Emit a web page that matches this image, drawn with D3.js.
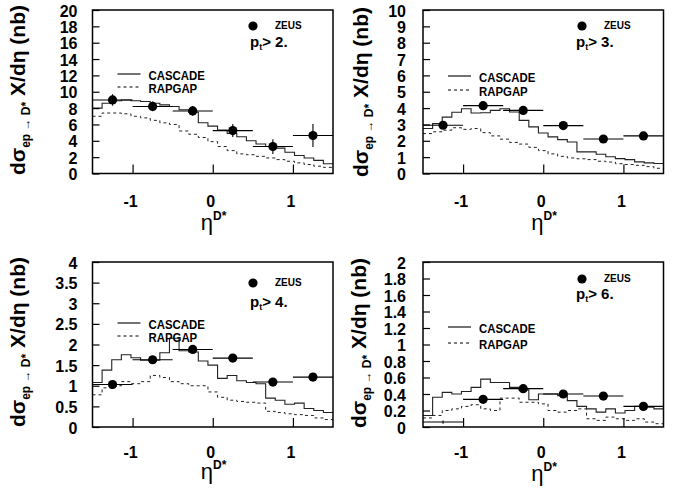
<!DOCTYPE html>
<html><head><meta charset="utf-8">
<script src="https://cdn.jsdelivr.net/npm/d3@7/dist/d3.min.js"></script>
<style>
body{margin:0;background:#fff;}
svg{display:block;font-family:"Liberation Sans",Arial,sans-serif;}
</style></head>
<body><svg id="chart" width="686" height="495"></svg>
<script>
// ---------- data ----------
const etaCenters = [-1.25, -0.75, -0.25, 0.25, 0.75, 1.25];
const etaHalfWidth = 0.25;
const binLows = [-1.5,-1.38,-1.26,-1.14,-1.02,-0.9,-0.78,-0.66,-0.54,-0.42,-0.3,-0.18,-0.06,0.06,0.18,0.3,0.42,0.54,0.66,0.78,0.9,1.02,1.14,1.26,1.38];
const binHigh = 1.5;
const xTickValues = [-1, 0, 1];
const ptCuts = ["2.", "3.", "4.", "6."];

const yTicksPt2 = [0,2,4,6,8,10,12,14,16,18,20];
const yTicksPt3 = [0,1,2,3,4,5,6,7,8,9,10];
const yTicksPt4 = [0,0.5,1,1.5,2,2.5,3,3.5,4];
const yTicksPt6 = [0,0.2,0.4,0.6,0.8,1,1.2,1.4,1.6,1.8,2];

const zeusPt2 = [9.0, 8.2, 7.65, 5.25, 3.3, 4.65];
const zeusErrPt2 = [0.7, 0.6, 0.6, 0.8, 0.9, 1.4];
const zeusPt3 = [2.95, 4.15, 3.86, 2.93, 2.11, 2.3];
const zeusErrPt3 = [0.15, 0.15, 0.12, 0.12, 0.12, 0.2];
const zeusPt4 = [1.03, 1.63, 1.88, 1.67, 1.09, 1.21];
const zeusErrPt4 = [0.05, 0.06, 0.06, 0.05, 0.05, 0.08];
const zeusPt6 = [0.06, 0.335, 0.465, 0.40, 0.375, 0.25];
const zeusErrPt6 = [0.02, 0.03, 0.03, 0.03, 0.03, 0.03];

const cascadePt2 = [8.0,8.6,8.9,9.0,8.9,8.8,8.6,8.4,8.2,7.8,7.5,6.2,5.8,5.3,4.9,4.5,4.0,3.6,3.3,3.1,2.6,2.2,1.9,1.6,1.2];
const rapgapPt2  = [7.0,7.4,7.4,7.3,7.0,6.8,6.5,6.2,6.0,5.2,4.8,4.4,3.9,3.3,2.8,2.4,2.3,2.1,1.9,1.7,1.5,1.3,1.1,0.9,0.75];
const cascadePt3 = [2.75,3.05,3.45,3.75,3.96,3.7,3.72,3.86,3.96,3.76,3.25,2.85,2.48,2.24,2.07,1.93,1.32,1.32,1.18,1.02,0.91,0.85,0.71,0.65,0.61];
const rapgapPt3  = [2.44,2.55,2.65,2.8,2.7,2.75,2.5,2.3,2.1,1.9,1.8,1.6,1.4,1.2,1.05,0.95,0.9,0.85,0.75,0.7,0.6,0.55,0.5,0.42,0.32];
const cascadePt4 = [1.08,1.38,1.63,1.75,1.68,1.62,1.62,1.80,2.15,1.85,1.82,1.60,1.50,1.18,1.25,1.12,1.08,1.05,0.70,0.65,0.55,0.58,0.45,0.40,0.35];
const rapgapPt4  = [0.78,0.95,1.0,1.1,1.05,1.1,1.25,1.2,1.1,1.05,1.0,1.0,0.85,0.72,0.65,0.62,0.6,0.58,0.38,0.35,0.32,0.3,0.28,0.22,0.18];
const cascadePt6 = [0.14,0.36,0.42,0.40,0.43,0.48,0.58,0.54,0.54,0.48,0.45,0.33,0.40,0.40,0.38,0.32,0.25,0.22,0.18,0.22,0.17,0.20,0.25,0.24,0.22];
const rapgapPt6  = [0.11,0.14,0.20,0.22,0.25,0.27,0.22,0.20,0.35,0.35,0.30,0.30,0.28,0.20,0.18,0.20,0.22,0.10,0.08,0.12,0.10,0.08,0.10,0.06,0.04];

// ---------- layout ----------
const panels = [
  {left:92.5, right:333, top:10, bottom:173.5, yMax:20, ticks:yTicksPt2, zeus:zeusPt2, err:zeusErrPt2, cas:cascadePt2, rap:rapgapPt2, pt:ptCuts[0],
   lblGap:15, titleX:25, titleY:90, xLblY:207, etaY:230, leg:{dotX:253,dotY:26,ptX:250,ptY:47,casY:74,rapY:87}},
  {left:423, right:663.5, top:10, bottom:173.5, yMax:10, ticks:yTicksPt3, zeus:zeusPt3, err:zeusErrPt3, cas:cascadePt3, rap:rapgapPt3, pt:ptCuts[1],
   lblGap:17, titleX:368, titleY:92, xLblY:207, etaY:230, leg:{dotX:582,dotY:26,ptX:576,ptY:47,casY:76,rapY:90}},
  {left:92.5, right:333, top:262, bottom:427, yMax:4, ticks:yTicksPt4, zeus:zeusPt4, err:zeusErrPt4, cas:cascadePt4, rap:rapgapPt4, pt:ptCuts[2],
   lblGap:15, titleX:25, titleY:342, xLblY:458, etaY:479, leg:{dotX:253,dotY:283,ptX:250,ptY:307,casY:323,rapY:336}},
  {left:423, right:663.5, top:262, bottom:427, yMax:2, ticks:yTicksPt6, zeus:zeusPt6, err:zeusErrPt6, cas:cascadePt6, rap:rapgapPt6, pt:ptCuts[3],
   lblGap:17, titleX:366, titleY:343, xLblY:458, etaY:481, leg:{dotX:582,dotY:279,ptX:576,ptY:299,casY:327,rapY:343}}
];

const svg = d3.select("#chart");

panels.forEach(p => {
  const x = d3.scaleLinear().domain([-1.5, 1.5]).range([p.left, p.right]);
  const y = d3.scaleLinear().domain([0, p.yMax]).range([p.bottom, p.top]);
  const g = svg.append("g");

  // histograms
  const histPts = vals => {
    const pts = binLows.map((b,i) => [b, vals[i]]);
    pts.push([binHigh, vals[vals.length-1]]);
    return pts;
  };
  const line = d3.line().x(d => x(d[0])).y(d => y(d[1])).curve(d3.curveStepAfter);
  g.append("path").attr("d", line(histPts(p.rap))).attr("fill","none")
    .attr("stroke","#222").attr("stroke-width",1).attr("stroke-dasharray","3,3");
  g.append("path").attr("d", line(histPts(p.cas))).attr("fill","none")
    .attr("stroke","#222").attr("stroke-width",1.1);

  // y axis ticks
  const yAxis = d3.axisRight(y).tickValues(p.ticks).tickSize(7).tickFormat("");
  g.append("g").attr("transform",`translate(${p.left},0)`).call(yAxis)
    .call(a => a.select(".domain").remove())
    .selectAll("line").attr("stroke","#000").attr("stroke-width",1.2);
  g.selectAll(".ylbl").data(p.ticks).enter().append("text")
    .attr("x", p.left - p.lblGap).attr("y", d => y(d) + 1)
    .attr("text-anchor","end").attr("dominant-baseline","central")
    .attr("font-size",16).attr("font-weight","bold").text(d => d3.format("")(d));

  // x axis ticks
  const xAxis = d3.axisTop(x).tickValues(xTickValues).tickSize(9).tickFormat("");
  g.append("g").attr("transform",`translate(0,${p.bottom})`).call(xAxis)
    .call(a => a.select(".domain").remove())
    .selectAll("line").attr("stroke","#000").attr("stroke-width",1.2);
  g.selectAll(".xlbl").data(xTickValues).enter().append("text")
    .attr("x", d => x(d) - 2).attr("y", p.xLblY)
    .attr("text-anchor","middle").attr("font-size",16).attr("font-weight","bold")
    .text(d => d);

  // frame
  g.append("rect").attr("x",p.left).attr("y",p.top)
    .attr("width",p.right-p.left).attr("height",p.bottom-p.top)
    .attr("fill","none").attr("stroke","#000").attr("stroke-width",1.5);

  // data points with error bars
  const pts = etaCenters.map((e,i) => ({e, v:p.zeus[i], er:p.err[i]}));
  const eg = g.append("g").attr("stroke","#000").attr("stroke-width",1.1);
  eg.selectAll(".hbar").data(pts).enter().append("line")
    .attr("x1", d => x(d.e - etaHalfWidth)).attr("x2", d => x(d.e + etaHalfWidth))
    .attr("y1", d => y(d.v)).attr("y2", d => y(d.v));
  eg.selectAll(".vbar").data(pts).enter().append("line")
    .attr("x1", d => x(d.e)).attr("x2", d => x(d.e))
    .attr("y1", d => y(d.v - d.er)).attr("y2", d => y(d.v + d.er));
  g.selectAll(".dot").data(pts.filter(d => y(d.v) < p.bottom - 12)).enter().append("circle")
    .attr("cx", d => x(d.e)).attr("cy", d => y(d.v)).attr("r",4.6).attr("fill","#000");

  // legend
  const L = p.leg;
  g.append("circle").attr("cx",L.dotX).attr("cy",L.dotY).attr("r",4.6).attr("fill","#000");
  g.append("text").attr("x",L.dotX+22).attr("y",L.dotY+3).attr("font-size",10).attr("font-weight","bold").text("ZEUS");
  const pt = g.append("text").attr("x",L.ptX).attr("y",L.ptY).attr("font-size",15).attr("font-weight","bold");
  pt.append("tspan").text("p");
  pt.append("tspan").attr("font-size",9).attr("dy",3).text("t");
  pt.append("tspan").attr("dy",-3).text("> " + p.pt);

  g.append("line").attr("x1",p.left+25).attr("x2",p.left+48).attr("y1",L.casY).attr("y2",L.casY)
    .attr("stroke","#000").attr("stroke-width",1.1);
  g.append("text").attr("x",p.left+56).attr("y",L.casY+1).attr("dominant-baseline","central")
    .attr("font-size",12).attr("font-weight","bold").attr("transform-origin",`${p.left+56}px ${L.casY}px`)
    .attr("transform","scale(0.95,1)").text("CASCADE");
  g.append("line").attr("x1",p.left+25).attr("x2",p.left+48).attr("y1",L.rapY).attr("y2",L.rapY)
    .attr("stroke","#000").attr("stroke-width",1).attr("stroke-dasharray","3,3");
  g.append("text").attr("x",p.left+56).attr("y",L.rapY+1).attr("dominant-baseline","central")
    .attr("font-size",12).attr("font-weight","bold").attr("transform-origin",`${p.left+56}px ${L.rapY}px`)
    .attr("transform","scale(0.95,1)").text("RAPGAP");

  // axis titles
  const yt = svg.append("text").attr("transform",`translate(${p.titleX},${p.titleY}) rotate(-90)`)
    .attr("text-anchor","middle").attr("font-weight","bold");
  yt.append("tspan").attr("font-size",21).text("dσ");
  yt.append("tspan").attr("font-size",12).attr("dy",5).text("ep → D*");
  yt.append("tspan").attr("font-size",21).attr("dy",-5).text(" X/dη (nb)");

  const xt = svg.append("text").attr("x",(p.left+p.right)/2 - 12).attr("y",p.etaY);
  xt.append("tspan").attr("font-size",22).text("η");
  xt.append("tspan").attr("font-size",12).attr("font-weight","bold").attr("dy",-10).text("D*");
});
</script>
</body></html>
